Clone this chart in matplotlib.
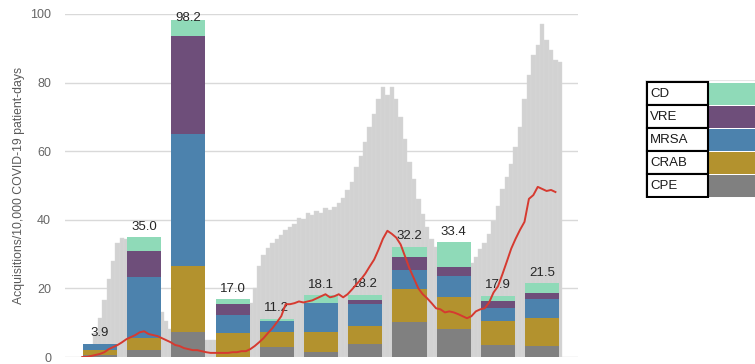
import numpy as np
import matplotlib.pyplot as plt
from matplotlib.patches import Rectangle

plt.rcParams["font.family"] = ["Liberation Sans", "DejaVu Sans"]

# organism acquisitions per period (stacked bottom to top)
organisms = ["CPE", "CRAB", "MRSA", "VRE", "CD"]
cpe = [0.5, 2.1, 7.2, 0.0, 2.9, 1.4, 3.9, 10.1, 8.1, 3.6, 3.1]
crab = [1.6, 3.4, 19.4, 6.9, 4.5, 5.8, 5.2, 9.7, 9.3, 7.0, 8.4]
mrsa = [1.8, 17.8, 38.3, 5.3, 3.1, 8.4, 6.4, 5.6, 6.3, 3.7, 5.3]
vre = [0.0, 7.7, 28.6, 3.2, 0.0, 0.0, 1.2, 3.7, 2.6, 2.1, 1.9]
cd = [0.0, 4.0, 4.7, 1.6, 0.7, 2.5, 1.5, 3.1, 7.1, 1.5, 2.8]

# COVID-19 inpatient load (background), one value per tenth of a period
covid_load = [
    0.5, 3.5, 7.0, 11.3, 16.5, 22.6, 28.1, 33.3, 34.8, 34.5,
    32.2, 29.3, 26.4, 22.9, 19.4, 16.5, 14.8, 13.0, 10.4, 8.1,
    7.0, 6.4, 5.8, 5.5, 5.2, 5.2, 4.9, 4.9, 4.9, 4.9,
    4.6, 4.6, 4.6, 4.9, 5.5, 7.0, 9.9, 15.7, 20.0, 26.4,
    29.6, 31.9, 33.3, 34.5, 35.7, 37.1, 38.0, 38.8, 40.6, 40.3,
    42.0, 41.4, 42.6, 42.0, 43.5, 42.9, 43.8, 44.9, 46.4, 48.7,
    51.0, 55.4, 58.6, 62.6, 67.0, 70.7, 75.1, 78.8, 76.5, 78.8,
    75.1, 69.9, 63.5, 56.8, 51.9, 46.1, 41.7, 38.0, 34.5, 32.2,
    30.1, 28.7, 27.5, 26.7, 26.4, 26.4, 26.7, 27.5, 29.3, 31.6,
    33.3, 35.9, 39.7, 44.1, 49.0, 52.5, 56.2, 61.2, 67.0, 75.1,
    82.3, 88.1, 91.0, 97.0, 92.5, 89.6, 86.7, 86.0,
]
covid_start = -0.3

# smoothed total acquisition rate (red line)
rolling_rate = [
    0.0, 0.0, 0.3, 0.6, 0.9, 1.4, 2.3, 2.9, 3.5, 4.3,
    5.2, 5.8, 6.4, 7.2, 7.5, 6.7, 6.4, 6.1, 5.5, 4.9,
    4.3, 3.5, 3.2, 2.6, 2.3, 2.0, 2.0, 1.7, 1.4, 1.2,
    1.2, 1.2, 1.2, 1.2, 1.4, 1.4, 1.7, 1.7, 2.3, 3.2,
    4.3, 5.5, 7.0, 8.4, 10.1, 11.9, 15.4, 15.4, 15.7, 16.2,
    15.9, 16.2, 16.5, 17.1, 17.7, 18.3, 17.4, 17.7, 18.3, 17.4,
    18.3, 19.7, 21.2, 22.6, 24.3, 26.4, 28.4, 31.3, 34.5, 36.8,
    35.9, 34.8, 32.8, 29.3, 25.8, 22.9, 20.0, 18.3, 17.1, 15.7,
    14.2, 13.9, 13.0, 13.3, 13.0, 12.5, 11.9, 11.3, 11.9, 13.3,
    13.9, 14.2, 15.9, 18.8, 20.6, 24.1, 27.8, 31.6, 34.5, 37.1,
    39.4, 46.1, 47.2, 49.6, 49.0, 48.4, 48.7, 48.1,
]
rolling_start = -0.4

colors = {
    "CPE": "#808080",
    "CRAB": "#b3922e",
    "MRSA": "#4c82ad",
    "VRE": "#6e4e7a",
    "CD": "#8fdab8",
}

series = dict(zip(organisms, [cpe, crab, mrsa, vre, cd]))
n = len(cpe)
x = np.arange(n)

fig = plt.figure(figsize=(7.55, 3.64), dpi=100)
ax = fig.add_axes([65 / 755, 7 / 364, 513 / 755, 343 / 364])

# background daily bars
cx = covid_start + 0.1 * np.arange(len(covid_load))
ax.bar(cx, covid_load, width=0.1, color="#d2d2d2", edgecolor="#d9d9d9",
       linewidth=0.3, zorder=1)

# stacked organism bars
bottom = np.zeros(n)
for name in organisms:
    vals = np.array(series[name])
    ax.bar(x, vals, bottom=bottom, width=0.77, color=colors[name],
           linewidth=0, zorder=2)
    bottom += vals

for xi, tot in zip(x, bottom):
    ly = min(tot, 96.0)
    ax.annotate(f"{tot:.1f}", (xi, ly), xytext=(0, 3), textcoords="offset points",
                ha="center", va="bottom", fontsize=9.5, color="#262626", zorder=3)

rx = rolling_start + 0.1 * np.arange(len(rolling_rate))
ax.plot(rx, rolling_rate, color="#d63a30", lw=1.4, zorder=4)

ax.set_xlim(-0.79, 10.81)
ax.set_ylim(0, 100)
ax.set_yticks(range(0, 101, 20))
ax.set_xticks([])
ax.grid(axis="y", color="#d9d9d9", lw=1)
ax.set_axisbelow(True)
for s in ax.spines.values():
    s.set_visible(False)
ax.tick_params(axis="y", length=0, pad=10, labelsize=9, labelcolor="#666666")
ax.set_ylabel("Acquisitions/10,000 COVID-19 patient-days", fontsize=8.8, color="#595959")
ax.yaxis.set_label_coords(-0.078, 0.5)

# table-style legend on the right
lax = fig.add_axes([645 / 755, (364 - 198) / 364, 110 / 755, 118 / 364])
lax.set_xlim(0, 110)
lax.set_ylim(118, 0)
lax.axis("off")
lax.add_patch(Rectangle((0, 0), 110, 118, facecolor="white", edgecolor="#e6e6e6", lw=0.8))
for i, name in enumerate(organisms[::-1]):
    top = 2 + 23 * i
    lax.add_patch(Rectangle((63, top + 0.5), 47, 22, facecolor=colors[name], linewidth=0))
    lax.add_patch(Rectangle((2, top), 61, 23, facecolor="white", edgecolor="black", lw=1.5))
    lax.text(5, top + 12, name, va="center", ha="left", fontsize=9.5, color="#1a1a1a")

fig.savefig("out.png", dpi=100)
